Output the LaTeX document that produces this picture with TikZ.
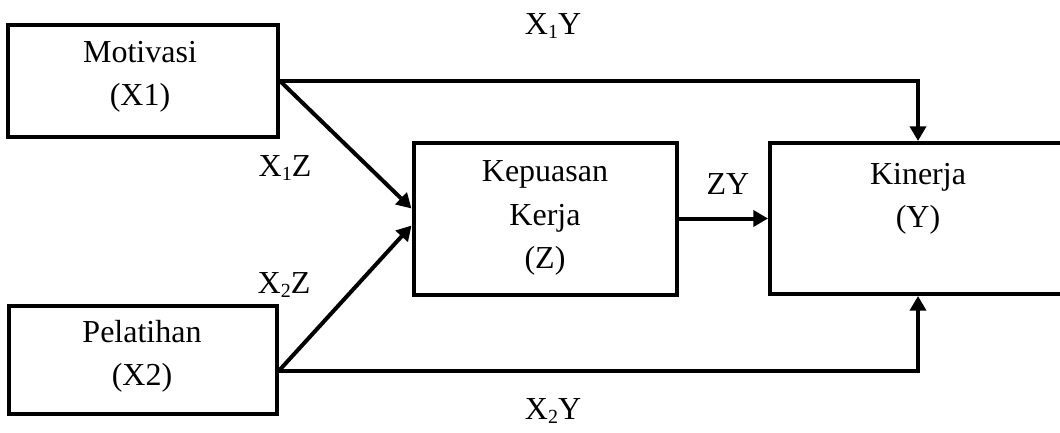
\documentclass[tikz,border=0pt]{standalone}
\usepackage{fontspec}
\setmainfont{Liberation Serif}
\usetikzlibrary{arrows.meta,calc}
\begin{document}
\begin{tikzpicture}[x=0.75pt,y=-0.75pt,
  box/.style={draw,line width=3pt,inner sep=0pt},
  txt/.style={font=\fontsize{24}{32.5}\selectfont,align=center,inner sep=0pt},
  link/.style={line width=3pt,-{Triangle[length=11pt,width=12pt]}},
  lbl/.style={font=\fontsize{24}{28}\selectfont,inner sep=0pt}]
\clip (0,0) rectangle (1060,432);
\fill[white] (0,0) rectangle (1060,432);

% boxes
\node[box,minimum width=270*0.75pt,minimum height=112*0.75pt] (mot) at (142.5,80.5) {};
\node[txt] (motT) at (140,77) {Motivasi\\(X1)};
\node[box,minimum width=268*0.75pt,minimum height=108*0.75pt] (pel) at (142.5,360) {};
\node[txt] (pelT) at (142,356) {Pelatihan\\(X2)};
\node[box,minimum width=263*0.75pt,minimum height=152*0.75pt] (kep) at (545,218.5) {};
\node[txt] (kepT) at (545,218) {Kepuasan\\Kerja\\(Z)};
\node[box,minimum width=296*0.75pt,minimum height=151*0.75pt] (kin) at (918,218.5) {};
\node[txt] (kinT) at (918,199) {Kinerja\\(Y)};

% start points of the lower paths
\coordinate (pelOut) at ($(pel.north east)!0.6!(pel.south east)$);

% connectors
\draw[link] (mot.east) -| (kin.north);
\draw[link] (pelOut) -| (kin.south);
\draw[link] (mot.east) -- ($(kep.west)+(0,-10)$);
\draw[link] (pelOut) -- ($(kep.west)+(0,7)$);
\draw[link] (kep.east) -- (kin.west);

% path labels
\newcommand{\sbx}[1]{\raisebox{-0.3ex}{\fontsize{15}{15}\selectfont #1}}
\node[lbl] (l1) at (553,26) {X\sbx{1}Y};
\node[lbl] (l2) at (285,168) {X\sbx{1}Z};
\node[lbl] (l3) at (284,285) {X\sbx{2}Z};
\node[lbl] (l4) at (728,184) {ZY};
\node[lbl] (l5) at (553,411) {X\sbx{2}Y};
\end{tikzpicture}
\end{document}
